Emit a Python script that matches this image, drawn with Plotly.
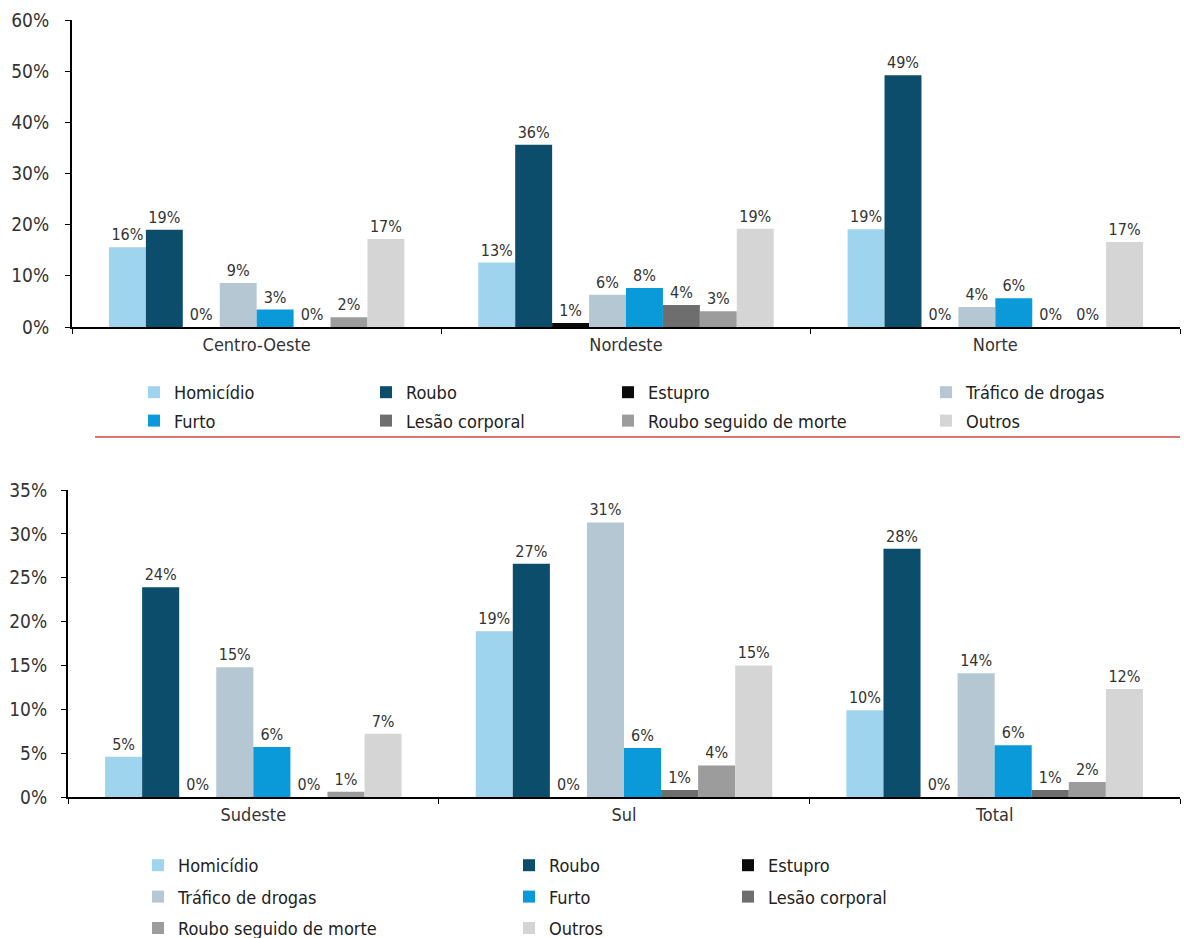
import plotly.graph_objects as go

W, H = 1184, 938

series_names = ["Homicídio", "Roubo", "Estupro", "Tráfico de drogas", "Furto",
                "Lesão corporal", "Roubo seguido de morte", "Outros"]
series_colors = ["#9fd4ee", "#0b4d6b", "#0a0a0a", "#b4c7d2", "#0b9ad9",
                 "#6e6e6e", "#9c9c9c", "#d5d5d5"]

top_categories = ["Centro-Oeste", "Nordeste", "Norte"]
bottom_categories = ["Sudeste", "Sul", "Total"]

# values (fractions) per series, top panel: Centro-Oeste, Nordeste, Norte
homicidio_top = [0.156, 0.126, 0.191]
roubo_top = [0.190, 0.356, 0.492]
estupro_top = [0.0, 0.008, 0.0]
trafico_top = [0.086, 0.063, 0.039]
furto_top = [0.034, 0.076, 0.056]
lesao_top = [0.0, 0.043, 0.0]
roubo_morte_top = [0.019, 0.031, 0.0]
outros_top = [0.172, 0.192, 0.166]

# bottom panel: Sudeste, Sul, Total
homicidio_bot = [0.046, 0.189, 0.099]
roubo_bot = [0.239, 0.266, 0.283]
estupro_bot = [0.0, 0.0, 0.0]
trafico_bot = [0.148, 0.313, 0.141]
furto_bot = [0.057, 0.056, 0.059]
lesao_bot = [0.0, 0.008, 0.008]
roubo_morte_bot = [0.006, 0.036, 0.017]
outros_bot = [0.072, 0.150, 0.123]

top_values = [homicidio_top, roubo_top, estupro_top, trafico_top, furto_top,
              lesao_top, roubo_morte_top, outros_top]
bot_values = [homicidio_bot, roubo_bot, estupro_bot, trafico_bot, furto_bot,
              lesao_bot, roubo_morte_bot, outros_bot]

FONT = "DejaVu Sans Condensed, Roboto, sans-serif"
TXT = "#333333"

# legend column assignment (series index -> legend id)
top_legend_of = {0: "legend", 4: "legend", 1: "legend2", 5: "legend2",
                 2: "legend3", 6: "legend3", 3: "legend4", 7: "legend4"}
bot_legend_of = {0: "legend5", 3: "legend5", 6: "legend5",
                 1: "legend6", 4: "legend6", 7: "legend6",
                 2: "legend7", 5: "legend7"}

fig = go.Figure()

for i, name in enumerate(series_names):
    fig.add_trace(go.Bar(
        x=top_categories, y=top_values[i], name=name,
        marker=dict(color=series_colors[i], line=dict(width=0)),
        texttemplate="%{y:.0%}", textposition="outside",
        textfont=dict(family=FONT, size=16, color=TXT),
        cliponaxis=False, xaxis="x", yaxis="y",
        legend=top_legend_of[i], legendgroup="t" + str(i),
    ))
for i, name in enumerate(series_names):
    fig.add_trace(go.Bar(
        x=bottom_categories, y=bot_values[i], name=name,
        marker=dict(color=series_colors[i], line=dict(width=0)),
        texttemplate="%{y:.0%}", textposition="outside",
        textfont=dict(family=FONT, size=16, color=TXT),
        cliponaxis=False, xaxis="x2", yaxis="y2",
        legend=bot_legend_of[i], legendgroup="b" + str(i),
    ))

def px_x(p):
    return p / W

def px_y(p):
    return 1 - p / H

axis_common = dict(showline=True, linecolor="black", linewidth=2,
                   ticks="outside", tickcolor="black", ticklen=5,
                   showgrid=False, zeroline=False)
xfont = dict(family=FONT, size=18, color=TXT)
yfont = dict(family=FONT, size=19, color=TXT)

leg_top = dict(orientation="v", font=dict(family=FONT, size=18, color="#222"),
               bgcolor="rgba(0,0,0,0)", tracegroupgap=2, itemwidth=30,
               yanchor="top", xanchor="left", maxheight=300)
leg_bot = dict(leg_top, tracegroupgap=5)

fig.update_layout(
    width=W, height=H,
    margin=dict(l=0, r=0, t=0, b=0, autoexpand=False),
    paper_bgcolor="white", plot_bgcolor="white",
    barmode="group", bargap=0.2, bargroupgap=0,
    showlegend=True,
    xaxis=dict(domain=[px_x(72), px_x(1180)], anchor="y", tickson="boundaries",
               tickfont=xfont, **axis_common),
    yaxis=dict(domain=[px_y(327), px_y(20)], anchor="x", range=[0, 0.6],
               dtick=0.1, tickformat=".0%", ticklabelstandoff=12,
               tickfont=yfont, **axis_common),
    xaxis2=dict(domain=[px_x(68), px_x(1180)], anchor="y2", tickson="boundaries",
                tickfont=xfont, **axis_common),
    yaxis2=dict(domain=[px_y(797), px_y(490)], anchor="x2", range=[0, 0.35],
                dtick=0.05, tickformat=".0%", ticklabelstandoff=10,
                tickfont=yfont, **axis_common),
    legend=dict(x=px_x(134), y=px_y(374), **leg_top),
    legend2=dict(x=px_x(366), y=px_y(374), **leg_top),
    legend3=dict(x=px_x(608), y=px_y(374), **leg_top),
    legend4=dict(x=px_x(926), y=px_y(374), **leg_top),
    legend5=dict(x=px_x(138), y=px_y(847), **leg_bot),
    legend6=dict(x=px_x(509), y=px_y(847), **leg_bot),
    legend7=dict(x=px_x(728), y=px_y(847), **leg_bot),
    shapes=[dict(type="line", xref="paper", yref="paper",
                 x0=px_x(95), x1=px_x(1180), y0=px_y(437), y1=px_y(437),
                 line=dict(color="#d9756d", width=2))],
)

fig.write_html("out.html", post_script="document.body.style.margin='0';",
               config={"displayModeBar": False})
